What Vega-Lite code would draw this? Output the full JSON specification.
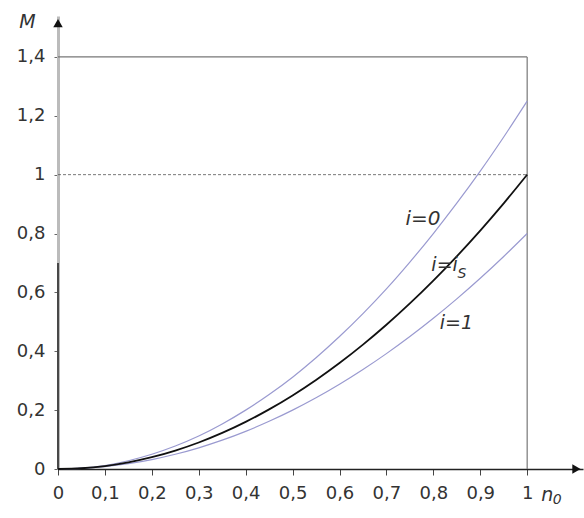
{
  "$schema": "https://vega.github.io/schema/vega-lite/v6.json",
  "width": 525,
  "height": 453,
  "autosize": {"type": "none"},
  "padding": {"left": 58, "top": 16, "right": 1, "bottom": 49},
  "config": {"view": {"stroke": null}, "font": "DejaVu Sans"},
  "datasets": {
    "curves": [
      {"n": 0, "M": 0, "s": "i=0"}, {"n": 0.05, "M": 0.003, "s": "i=0"}, {"n": 0.1, "M": 0.012, "s": "i=0"}, {"n": 0.15, "M": 0.028, "s": "i=0"}, {"n": 0.2, "M": 0.05, "s": "i=0"}, {"n": 0.25, "M": 0.078, "s": "i=0"}, {"n": 0.3, "M": 0.112, "s": "i=0"}, {"n": 0.35, "M": 0.153, "s": "i=0"}, {"n": 0.4, "M": 0.2, "s": "i=0"}, {"n": 0.45, "M": 0.253, "s": "i=0"}, {"n": 0.5, "M": 0.312, "s": "i=0"}, {"n": 0.55, "M": 0.378, "s": "i=0"}, {"n": 0.6, "M": 0.45, "s": "i=0"}, {"n": 0.65, "M": 0.528, "s": "i=0"}, {"n": 0.7, "M": 0.612, "s": "i=0"}, {"n": 0.75, "M": 0.703, "s": "i=0"}, {"n": 0.8, "M": 0.8, "s": "i=0"}, {"n": 0.85, "M": 0.903, "s": "i=0"}, {"n": 0.9, "M": 1.012, "s": "i=0"}, {"n": 0.95, "M": 1.128, "s": "i=0"}, {"n": 1, "M": 1.25, "s": "i=0"},
      {"n": 0, "M": 0, "s": "i=iS"}, {"n": 0.05, "M": 0.0025, "s": "i=iS"}, {"n": 0.1, "M": 0.01, "s": "i=iS"}, {"n": 0.15, "M": 0.0225, "s": "i=iS"}, {"n": 0.2, "M": 0.04, "s": "i=iS"}, {"n": 0.25, "M": 0.0625, "s": "i=iS"}, {"n": 0.3, "M": 0.09, "s": "i=iS"}, {"n": 0.35, "M": 0.1225, "s": "i=iS"}, {"n": 0.4, "M": 0.16, "s": "i=iS"}, {"n": 0.45, "M": 0.2025, "s": "i=iS"}, {"n": 0.5, "M": 0.25, "s": "i=iS"}, {"n": 0.55, "M": 0.3025, "s": "i=iS"}, {"n": 0.6, "M": 0.36, "s": "i=iS"}, {"n": 0.65, "M": 0.4225, "s": "i=iS"}, {"n": 0.7, "M": 0.49, "s": "i=iS"}, {"n": 0.75, "M": 0.5625, "s": "i=iS"}, {"n": 0.8, "M": 0.64, "s": "i=iS"}, {"n": 0.85, "M": 0.7225, "s": "i=iS"}, {"n": 0.9, "M": 0.81, "s": "i=iS"}, {"n": 0.95, "M": 0.9025, "s": "i=iS"}, {"n": 1, "M": 1, "s": "i=iS"},
      {"n": 0, "M": 0, "s": "i=1"}, {"n": 0.05, "M": 0.002, "s": "i=1"}, {"n": 0.1, "M": 0.008, "s": "i=1"}, {"n": 0.15, "M": 0.018, "s": "i=1"}, {"n": 0.2, "M": 0.032, "s": "i=1"}, {"n": 0.25, "M": 0.05, "s": "i=1"}, {"n": 0.3, "M": 0.072, "s": "i=1"}, {"n": 0.35, "M": 0.098, "s": "i=1"}, {"n": 0.4, "M": 0.128, "s": "i=1"}, {"n": 0.45, "M": 0.162, "s": "i=1"}, {"n": 0.5, "M": 0.2, "s": "i=1"}, {"n": 0.55, "M": 0.242, "s": "i=1"}, {"n": 0.6, "M": 0.288, "s": "i=1"}, {"n": 0.65, "M": 0.338, "s": "i=1"}, {"n": 0.7, "M": 0.392, "s": "i=1"}, {"n": 0.75, "M": 0.45, "s": "i=1"}, {"n": 0.8, "M": 0.512, "s": "i=1"}, {"n": 0.85, "M": 0.578, "s": "i=1"}, {"n": 0.9, "M": 0.648, "s": "i=1"}, {"n": 0.95, "M": 0.722, "s": "i=1"}, {"n": 1, "M": 0.8, "s": "i=1"}
    ],
    "frame": [
      {"x": 0, "y": 1.4, "x2": 1, "y2": 1.4, "k": "top"},
      {"x": 1, "y": 0, "x2": 1, "y2": 1.4, "k": "right"}
    ],
    "dash": [{"x": 0, "y": 1, "x2": 1, "y2": 1}],
    "blackseg": [{"x": 0, "y": 0, "x2": 0, "y2": 0.7}],
    "arrows": [
      {"x": 1.105, "y": 0, "shape": "triangle-right"},
      {"x": 0, "y": 1.515, "shape": "triangle-up"}
    ],
    "labels": [
      {"x": 0.778, "y": 0.85, "t": "i=0", "sz": 20},
      {"x": 0.824, "y": 0.693, "t": "i=i", "sz": 19},
      {"x": 0.861, "y": 0.664, "t": "S", "sz": 14},
      {"x": 0.849, "y": 0.496, "t": "i=1", "sz": 19},
      {"x": -0.065, "y": 1.52, "t": "M", "sz": 19},
      {"x": 1.043, "y": -0.09, "t": "n", "sz": 19},
      {"x": 1.064, "y": -0.105, "t": "0", "sz": 14}
    ]
  },
  "layer": [
    {
      "data": {"name": "dash"},
      "mark": {"type": "rule", "stroke": "#555", "strokeDash": [3, 2], "strokeWidth": 0.8},
      "encoding": {
        "x": {"field": "x", "type": "quantitative", "scale": {"domain": [0, 1.119], "nice": false}, "axis": {"values": [0, 0.1, 0.2, 0.3, 0.4, 0.5, 0.6, 0.7, 0.8, 0.9, 1], "labelExpr": "replace(toString(datum.value), '.', ',')", "title": null, "domainColor": "#222", "domainWidth": 1.5, "tickColor": "#444", "tickSize": 6, "labelPadding": 9, "labelFontSize": 18, "labelColor": "#333", "grid": false, "labelFlush": false}},
        "y": {"field": "y", "type": "quantitative", "scale": {"domain": [0, 1.539], "nice": false}, "axis": {"values": [0, 0.2, 0.4, 0.6, 0.8, 1, 1.2, 1.4], "labelExpr": "replace(toString(datum.value), '.', ',')", "title": null, "domainColor": "#bbb", "domainWidth": 3, "tickColor": "#666", "tickSize": 4, "labelPadding": 9, "labelFontSize": 18, "labelColor": "#333", "grid": false}},
        "x2": {"field": "x2"},
        "y2": {"field": "y2"}
      }
    },
    {
      "data": {"name": "frame"},
      "mark": {"type": "rule", "stroke": "#777", "strokeWidth": 1.2},
      "encoding": {
        "x": {"field": "x", "type": "quantitative"},
        "y": {"field": "y", "type": "quantitative"},
        "x2": {"field": "x2"},
        "y2": {"field": "y2"}
      }
    },
    {
      "data": {"name": "blackseg"},
      "mark": {"type": "rule", "stroke": "#222", "strokeWidth": 1.5},
      "encoding": {
        "x": {"field": "x", "type": "quantitative"},
        "y": {"field": "y", "type": "quantitative"},
        "x2": {"field": "x2"},
        "y2": {"field": "y2"}
      }
    },
    {
      "data": {"name": "curves"},
      "transform": [{"filter": "datum.s !== 'i=iS'"}],
      "mark": {"type": "line", "interpolate": "monotone", "stroke": "#9a9ad0", "strokeWidth": 1.2},
      "encoding": {
        "x": {"field": "n", "type": "quantitative"},
        "y": {"field": "M", "type": "quantitative"},
        "detail": {"field": "s"}
      }
    },
    {
      "data": {"name": "curves"},
      "transform": [{"filter": "datum.s === 'i=iS'"}],
      "mark": {"type": "line", "interpolate": "monotone", "stroke": "#111", "strokeWidth": 1.8},
      "encoding": {
        "x": {"field": "n", "type": "quantitative"},
        "y": {"field": "M", "type": "quantitative"}
      }
    },
    {
      "data": {"name": "arrows"},
      "mark": {"type": "point", "filled": true, "color": "#111", "opacity": 1, "size": 90},
      "encoding": {
        "x": {"field": "x", "type": "quantitative"},
        "y": {"field": "y", "type": "quantitative"},
        "shape": {"field": "shape", "type": "nominal", "scale": null}
      }
    },
    {
      "data": {"name": "labels"},
      "mark": {"type": "text", "fontStyle": "italic", "color": "#333", "align": "center", "baseline": "middle"},
      "encoding": {
        "x": {"field": "x", "type": "quantitative"},
        "y": {"field": "y", "type": "quantitative"},
        "text": {"field": "t"},
        "size": {"field": "sz", "type": "quantitative", "scale": null}
      }
    }
  ]
}
